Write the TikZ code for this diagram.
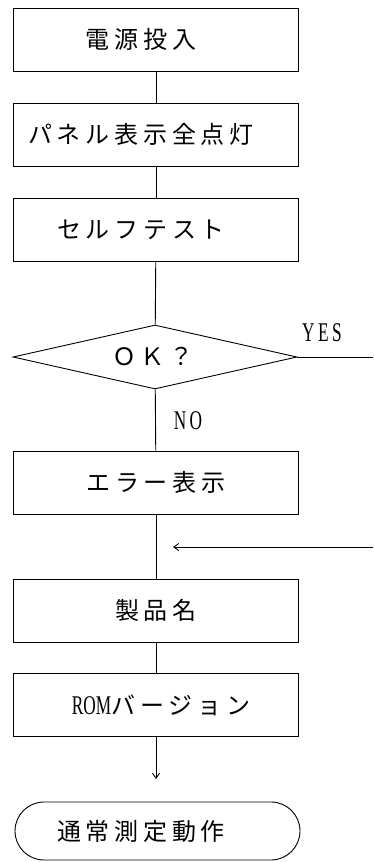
\documentclass[tikz,border=0pt]{standalone}
\usepackage{fontspec}
\usepackage{graphicx}
\usetikzlibrary{shapes.geometric,arrows.meta}

\newfontfamily\jp[LetterSpace=20]{Noto Sans CJK JP}
\newfontfamily\lat{Liberation Serif}
\newfontfamily\latw[LetterSpace=20]{Liberation Serif}
\newcommand{\jpf}{\jp\fontsize{24}{24}\selectfont}
\newcommand{\waski}[1]{\scalebox{0.64}[1]{\fontsize{27}{27}\selectfont #1}}
% tekst przesuniety w lewo o polowe #1
\newcommand{\wlewo}[2]{#2\hspace*{#1}}
\newcommand{\wprawo}[2]{\hspace*{#1}#2}

\begin{document}
\begin{tikzpicture}[
					x=1pt, y=-1pt,
					line width=0.9pt,
					>={Straight Barb[length=5pt,width=7pt]},
					blok/.style={draw, minimum width=285pt, minimum height=63pt, inner sep=0pt, font=\jpf},
					romb/.style={draw, diamond, aspect=4.4, minimum width=284pt, minimum height=64pt, inner sep=0pt, font=\jpf},
					koniec/.style={draw, rounded corners=29pt, minimum width=285pt, minimum height=58pt, inner sep=0pt, font=\jpf},
					etykieta/.style={inner sep=0pt}
					]
					
					\useasboundingbox (0,0) rectangle (373,862);
					
					% Bloki
					\node[blok] (zasilanie) at (156,39.5) {\wlewo{30pt}{電源投入}};
					\node[blok] (panel) at (156,134.5) {\wlewo{30pt}{パネル表示全点灯}};
					\node[blok] (test) at (156,230) {\wlewo{30pt}{セルフテスト}};
					\node[romb] (decyzja) at (155,357) {\wlewo{4pt}{ＯＫ？}};
					\node[blok] (blad) at (156,482.5) {エラー表示};
					\node[blok] (produkt) at (156,610.5) {製品名};
					\node[blok] (wersja) at (156,705) {\wprawo{10pt}{\waski{\lat ROM}バージョン}};
					\node[koniec] (pomiar) at (157.5,831) {\wlewo{33pt}{通常測定動作}};
					
					% Etykiety
					\node[etykieta] (tak) at (322,333) {\waski{\latw YES}};
					\node[etykieta] (nie) at (188,421) {\waski{\latw NO}};
					
					% Punkty swobodne
					\coordinate (wyjscie) at (373,357);
					\coordinate (powrot) at (373,547);
					\coordinate (wejscie) at (173,547);
					\coordinate (strzalka) at (156,779);
					
					% Polaczenia
					\draw (zasilanie) -- (panel);
					\draw (panel) -- (test);
					\draw (test) -- (decyzja);
					\draw (decyzja) -- (blad);
					\draw (blad) -- (produkt);
					\draw (produkt) -- (wersja);
					\draw[->] (wersja) -- (strzalka);
					\draw (decyzja.east) -- (wyjscie);
					\draw[->] (powrot) -- (wejscie);
					
				\end{tikzpicture}
\end{document}
